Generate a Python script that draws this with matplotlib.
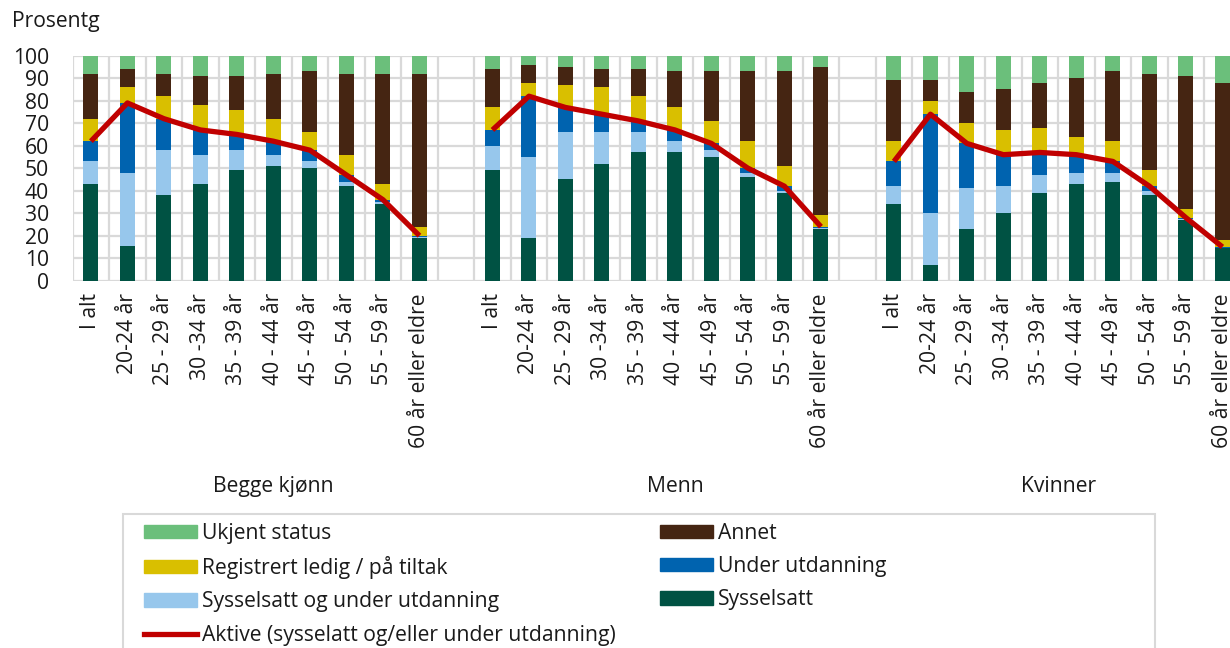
import numpy as np
import matplotlib
matplotlib.use('Agg')
import matplotlib.pyplot as plt
from matplotlib.patches import Patch, Rectangle
from matplotlib.lines import Line2D

plt.rcParams['font.family'] = ['Open Sans', 'DejaVu Sans']

# Categories
groups = ['Begge kjønn', 'Menn', 'Kvinner']
age_labels = ['I alt', '20-24 år', '25 - 29 år', '30 -34 år', '35 - 39 år',
              '40 - 44 år', '45 - 49 år', '50 - 54 år', '55 - 59 år',
              '60 år eller eldre']

# Shares in percent, per group (Begge kjønn, Menn, Kvinner), 10 age groups each
sysselsatt = [
    [43, 15.5, 38, 43, 49, 51, 50, 42, 34, 19],
    [49, 19, 45, 52, 57, 57, 55, 46, 39, 23],
    [34, 7, 23, 30, 39, 43, 44, 38, 27, 14.5],
]
syss_og_utd = [
    [10, 32.5, 20, 13, 9, 5, 3, 2, 1, 0.5],
    [11, 36, 21, 14, 9, 5, 3, 2, 1, 0.5],
    [8, 23, 18, 12, 8, 5, 4, 2, 0.5, 0.2],
]
under_utd = [
    [9, 31, 14, 11, 7, 6, 5, 3, 1, 0.5],
    [7, 27, 11, 8, 5, 5, 3, 2, 2, 0.5],
    [11, 44, 20, 14, 10, 8, 5, 2, 0.5, 0.3],
]
reg_ledig = [
    [10, 7, 10, 11, 11, 10, 8, 9, 7, 4],
    [10, 6, 10, 12, 11, 10, 10, 12, 9, 5],
    [9, 6, 9, 11, 11, 8, 9, 7, 4, 3],
]
annet = [
    [20, 8, 10, 13, 15, 20, 27, 36, 49, 68],
    [17, 8, 8, 8, 12, 16, 22, 31, 42, 66],
    [27, 9, 14, 18, 20, 26, 31, 43, 59, 70],
]
ukjent = [
    [8, 6, 8, 9, 9, 8, 7, 8, 8, 8],
    [6, 4, 5, 6, 6, 7, 7, 7, 7, 5],
    [11, 11, 16, 15, 12, 10, 7, 8, 9, 12],
]
aktive = [
    [62, 79, 72, 67, 65, 62, 58, 47, 36, 20],
    [67, 82, 77, 74, 71, 67, 61, 50, 42, 24],
    [53, 74, 61, 56, 57, 56, 53, 42, 28, 15],
]

series = [
    ('Sysselsatt', sysselsatt, '#005243'),
    ('Sysselsatt og under utdanning', syss_og_utd, '#97C7EC'),
    ('Under utdanning', under_utd, '#0063AF'),
    ('Registrert ledig / på tiltak', reg_ledig, '#D9BF00'),
    ('Annet', annet, '#452512'),
    ('Ukjent status', ukjent, '#6BBF7B'),
]
line_color = '#C00000'
txt_color = '#1a1a1a'
fs = 15.2

W, H = 1230, 648
fig = plt.figure(figsize=(W / 100, H / 100), dpi=100)
ax = fig.add_axes([72.7 / W, 1 - 280.7 / H, 1168 / W, 225 / H])

bar_w = 0.41
tick_pos = []
tick_lab = []
for g in range(len(groups)):
    x = np.arange(10) + 11 * g
    bottom = np.zeros(10)
    for name, data, color in series:
        vals = np.array(data[g], dtype=float)
        ax.bar(x, vals, bar_w, bottom=bottom, color=color, edgecolor='none', zorder=2)
        bottom += vals
    ax.plot(x, aktive[g], color=line_color, lw=3.8, solid_capstyle='butt', zorder=3)
    tick_pos.extend(x)
    tick_lab.extend(age_labels)
    # group label centred on the group span (incl. the gap after it)
    span_end = x[-1] + (1 if g < len(groups) - 1 else 0)
    cx = (x[0] + span_end) / 2
    ax.text(cx, -(487 - 280.7) / 225, groups[g], transform=ax.get_xaxis_transform(),
            ha='center', va='center', fontsize=fs, color=txt_color)

ax.set_xlim(-0.5, 31.5)
ax.set_ylim(0, 100)
ax.set_yticks(np.arange(0, 101, 10))
ax.set_xticks(tick_pos)
ax.set_xticklabels(tick_lab, rotation=90, fontsize=fs, color=txt_color)
ax.set_xticks(np.arange(-0.5, 32, 1), minor=True)
ax.tick_params(axis='y', length=0, pad=17, labelsize=fs, labelcolor=txt_color)
ax.tick_params(axis='x', which='both', length=0, pad=9)
ax.grid(axis='y', which='major', color='#d9d9d9', lw=1.6, zorder=0)
ax.grid(axis='x', which='minor', color='#d9d9d9', lw=1.6, zorder=0)
ax.set_axisbelow(True)
for s in ax.spines.values():
    s.set_visible(False)

fig.text(12 / W, 1 - 22 / H, 'Prosentg', fontsize=fs, va='center', ha='left', color=txt_color)

# legend (column-major order for two columns)
handles = [
    Patch(color='#6BBF7B', label='Ukjent status'),
    Patch(color='#D9BF00', label='Registrert ledig / på tiltak'),
    Patch(color='#97C7EC', label='Sysselsatt og under utdanning'),
    Line2D([], [], color=line_color, lw=3.8, label='Aktive (sysselatt og/eller under utdanning)'),
    Patch(color='#452512', label='Annet'),
    Patch(color='#0063AF', label='Under utdanning'),
    Patch(color='#005243', label='Sysselsatt'),
]
fig.legend(handles=handles, ncol=2, loc='upper left',
           bbox_to_anchor=(144 / W, 1 - 523 / H), frameon=False,
           fontsize=fs, borderaxespad=0, borderpad=0, labelcolor=txt_color,
           handlelength=2.5, handleheight=0.58, handletextpad=0.25,
           labelspacing=0.58, columnspacing=2.1)
fig.patches.append(Rectangle((123 / W, -0.05), (1155 - 123) / W, (1 - 514 / H) + 0.05,
                             transform=fig.transFigure, fill=False,
                             edgecolor='#d9d9d9', lw=1.5))

fig.savefig('out.png', dpi=100)
